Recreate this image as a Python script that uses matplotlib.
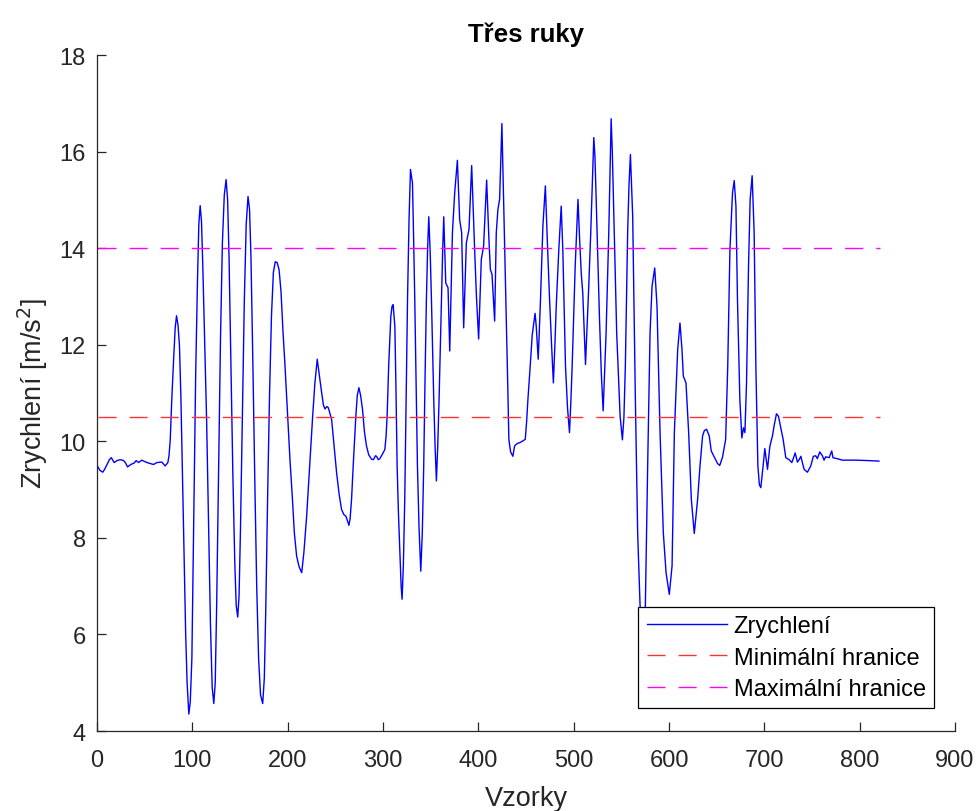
import matplotlib
matplotlib.use("Agg")
import matplotlib.pyplot as plt

plt.rcParams['font.family'] = ['Liberation Sans', 'DejaVu Sans']

# Acceleration signal (sample index, value)
samples = [1, 3, 6, 8, 10.5, 13, 15, 18, 21, 24.4, 27.9, 30, 32, 34, 36.5, 39, 41, 43.6, 47, 50,
           54, 59.3, 62.8, 68, 71.5, 74.3, 75.5, 76.8, 78.5, 80.2, 82, 83.4, 85, 86.5, 88, 89, 90.5,
           91.8, 93, 94.5, 96.3, 97.8, 99.5, 100.7, 101.9, 103.5, 105.4, 106.8, 108.2, 109.6, 111,
           113, 115, 117, 119, 120.8, 122.5, 124, 125.5, 127.5, 129.5, 131.5, 133.5, 135.4, 137,
           138.5, 140.5, 142.5, 144.5, 146, 147.6, 149, 150.5, 152.5, 154.5, 156.5, 158.4, 160,
           161.5, 163.5, 165.5, 167.5, 169.5, 171.5, 173.8, 175.5, 177, 179, 181, 183, 185, 187,
           189, 191, 193, 195, 197.2, 200, 202.4, 205, 207, 209.4, 212, 214.7, 217, 219.9, 223.4,
           226.2, 228.5, 231, 233, 235.6, 237.5, 239.1, 241, 242.5, 244, 246.1, 248.5, 251.3, 254,
           256.5, 259, 261, 262.8, 264.2, 265.5, 267, 269, 271.5, 273, 274.7, 276.5, 278.5, 280.5,
           282.7, 285, 288, 290, 292, 293.2, 295, 296.6, 299, 301.9, 303.2, 304.3, 306, 308.2,
           309.5, 310.6, 312.4, 313.5, 314.8, 316.2, 317.6, 319, 320, 321.3, 322.8, 324.3, 325.7,
           327.3, 328.8, 330.9, 332, 333.3, 334.7, 336.1, 337.8, 339.6, 341.2, 342.7, 344, 345.5,
           346.8, 348, 349.5, 350.8, 353.2, 354.6, 356, 357.4, 358.8, 361.3, 362.5, 363.7, 365.8,
           368.2, 370, 371.3, 372.8, 375.2, 378, 380.4, 382.5, 384.6, 387.4, 390.2, 393, 396.1,
           398, 400.3, 403.1, 405.5, 408.7, 411.1, 412.6, 414.3, 417.1, 418.8, 420.5, 422.3, 423.6,
           424.7, 426.5, 427.8, 429.3, 430.8, 432, 433.8, 436.2, 438, 439.8, 441.5, 443.2, 446,
           449.2, 450.6, 452, 454.2, 456.5, 459.5, 460.7, 462.8, 465.2, 467.7, 470.3, 472.3, 474.7,
           476.8, 478.7, 480.3, 481.7, 484.4, 486.9, 488.6, 491.4, 493.5, 495.6, 497, 498.4, 501.6,
           504.5, 506.2, 507.9, 509.5, 512.4, 515.8, 517.9, 519.5, 521.1, 522.3, 523.6, 527, 529,
           530.9, 534, 536.8, 538, 539.3, 540.5, 541.7, 545.1, 548.7, 551.1, 552.7, 554.2, 556.6,
           558, 559.5, 561.9, 564.7, 567.1, 569.6, 572, 573.5, 575.2, 577.6, 580.1, 582.2, 585,
           587.4, 590.6, 594, 596.9, 600.3, 603.2, 605.6, 609.1, 611.5, 613.6, 615, 617.8, 620.6,
           623.4, 626.5, 630, 632.5, 635.2, 637, 639.4, 642.2, 644.3, 647.4, 650.9, 653.2, 656.1,
           659.4, 661.6, 663.9, 666.6, 668.4, 670.2, 671.8, 674.3, 676.4, 678.1, 679.6, 681.3,
           683.4, 685.1, 687.2, 689.3, 691.1, 693.2, 694.8, 696.3, 698.7, 700.5, 703.3, 705.8,
           708.5, 710.5, 712.7, 714.8, 717.3, 719.7, 722.5, 726, 728.8, 730.5, 732.3, 734.7, 736.5,
           738.3, 740, 741.7, 745.2, 748.7, 751.4, 753.9, 755.6, 758.1, 760.9, 762.6, 764.4, 767.9,
           770.7, 772, 776.5, 781.8, 795.8, 809.7, 820.2]

accel = [9.47, 9.40, 9.36, 9.42, 9.52, 9.62, 9.66, 9.56, 9.60, 9.62, 9.60, 9.55, 9.47, 9.50, 9.53,
         9.55, 9.60, 9.56, 9.61, 9.58, 9.55, 9.52, 9.56, 9.57, 9.49, 9.56, 9.70, 10.03, 10.9, 11.63,
         12.35, 12.6, 12.4, 11.97, 10.9, 9.9, 8.4, 7.14, 6.0, 5.0, 4.35, 4.6, 5.5, 7.3, 9.2, 11.4,
         13.35, 14.5, 14.88, 14.55, 13.6, 12.0, 10.4, 8.3, 6.2, 4.9, 4.57, 5.0, 6.6, 9.4, 12.1, 14.1,
         15.1, 15.42, 15.0, 13.8, 11.5, 9.3, 7.5, 6.6, 6.36, 6.8, 8.2, 10.6, 12.9, 14.5, 15.07, 14.8,
         13.8, 11.6, 9.2, 7.0, 5.5, 4.75, 4.57, 5.1, 6.5, 8.9, 11.0, 12.6, 13.5, 13.72, 13.7, 13.55,
         13.1, 12.3, 11.56, 10.5, 9.62, 8.8, 8.1, 7.62, 7.4, 7.28, 7.7, 8.45, 9.62, 10.52, 11.2,
         11.70, 11.4, 11.01, 10.75, 10.67, 10.72, 10.70, 10.6, 10.45, 9.95, 9.35, 8.9, 8.59, 8.48,
         8.45, 8.35, 8.26, 8.4, 8.8, 9.6, 10.52, 10.95, 11.11, 10.95, 10.66, 10.2, 9.9, 9.72, 9.63,
         9.62, 9.70, 9.69, 9.62, 9.64, 9.72, 9.83, 10.1, 10.52, 11.6, 12.59, 12.8, 12.83, 12.39,
         11.2, 9.49, 8.5, 7.76, 7.0, 6.73, 7.4, 8.8, 10.9, 12.94, 14.6, 15.63, 15.35, 14.3, 12.94,
         11.2, 9.49, 8.2, 7.31, 8.1, 9.49, 11.2, 12.94, 14.0, 14.65, 13.9, 12.94, 10.87, 9.9, 9.18,
         9.9, 10.87, 12.94, 13.9, 14.65, 13.28, 13.18, 11.87, 13.0, 14.32, 15.15, 15.82, 14.59,
         14.32, 12.35, 14.11, 14.39, 15.71, 13.97, 13.0, 12.12, 13.77, 14.04, 15.41, 14.18, 13.56,
         13.46, 12.49, 14.32, 14.8, 15.01, 15.9, 16.58, 15.01, 13.8, 12.59, 11.2, 10.04, 9.78,
         9.69, 9.9, 9.94, 9.96, 9.97, 10.0, 10.04, 10.4, 10.87, 11.5, 12.2, 12.65, 12.39, 11.7,
         12.94, 14.46, 15.29, 14.18, 12.94, 12.0, 11.21, 12.0, 12.8, 13.97, 14.87, 13.97, 11.56,
         10.7, 10.18, 10.8, 11.56, 13.63, 15.01, 14.2, 13.49, 13.08, 11.59, 13.21, 14.32, 15.3,
         16.29, 15.9, 15.01, 12.59, 11.4, 10.63, 12.25, 14.32, 15.5, 16.68, 16.0, 15.01, 12.25,
         10.52, 10.03, 10.5, 11.56, 14.32, 15.3, 15.94, 14.66, 10.87, 8.11, 6.62, 5.8, 5.8, 6.62,
         9.49, 12.25, 13.21, 13.59, 12.8, 10.18, 8.11, 7.28, 6.83, 7.42, 10.18, 11.9, 12.45, 11.9,
         11.35, 11.21, 10.18, 8.8, 8.09, 8.8, 9.49, 10.11, 10.22, 10.25, 10.11, 9.8, 9.68, 9.54,
         9.5, 9.67, 10.04, 11.56, 13.97, 15.15, 15.4, 14.87, 12.94, 10.87, 10.07, 10.28, 10.18,
         11.21, 13.63, 15.01, 15.5, 14.32, 11.56, 9.49, 9.1, 9.04, 9.49, 9.85, 9.42, 9.9, 10.11,
         10.35, 10.57, 10.52, 10.28, 10.04, 9.66, 9.62, 9.56, 9.65, 9.76, 9.57, 9.62, 9.69, 9.55,
         9.42, 9.36, 9.49, 9.69, 9.70, 9.64, 9.78, 9.70, 9.61, 9.68, 9.66, 9.8, 9.66, 9.64, 9.61,
         9.61, 9.60, 9.59]

limit_range = [1, 821]
min_limit = 10.5
max_limit = 14.0
x_ticks = [0, 100, 200, 300, 400, 500, 600, 700, 800, 900]
y_ticks = [4, 6, 8, 10, 12, 14, 16, 18]

fig = plt.figure(figsize=(9.78, 8.12), dpi=100)
ax = fig.add_axes([0.0992, 0.0985, 0.8773, 0.8325])

dash = (13, 9.4)
ax.plot(samples, accel, color='#0000FF', lw=1.0, label='Zrychlení')
ax.plot(limit_range, [min_limit, min_limit], color='#FF3333', lw=1.0, dashes=dash,
        label='Minimální hranice')
ax.plot(limit_range, [max_limit, max_limit], color='#FF00FF', lw=1.0, dashes=dash,
        label='Maximální hranice')

ax.set_xlim(0, 900)
ax.set_ylim(4, 18)
ax.set_xticks(x_ticks)
ax.set_yticks(y_ticks)

axcol = '#262626'
for side in ['top', 'right']:
    ax.spines[side].set_visible(False)
for side in ['left', 'bottom']:
    ax.spines[side].set_color(axcol)
    ax.spines[side].set_linewidth(0.9)
ax.tick_params(direction='in', length=6.5, width=0.9, color=axcol, labelcolor=axcol,
               labelsize=17)
ax.tick_params(axis='x', pad=13)
ax.tick_params(axis='y', pad=8)

ax.set_title('Třes ruky', fontsize=18.5, fontweight='bold', color='black', pad=10)
ax.set_xlabel('Vzorky', fontsize=19.5, color=axcol, labelpad=10)
ax.set_ylabel('Zrychlení [m/s$^2$]', fontsize=19.5, color=axcol, labelpad=7)

leg = ax.legend(loc='lower right', bbox_to_anchor=(0.9755, 0.0336), borderaxespad=0,
                fontsize=17, handlelength=3.4, handletextpad=0.28, labelspacing=0.4,
                borderpad=0.35, fancybox=False, framealpha=1, edgecolor='black')
leg.get_frame().set_linewidth(0.9)
for t in leg.get_texts():
    t.set_color('black')

fig.savefig('out.png', dpi=100)
